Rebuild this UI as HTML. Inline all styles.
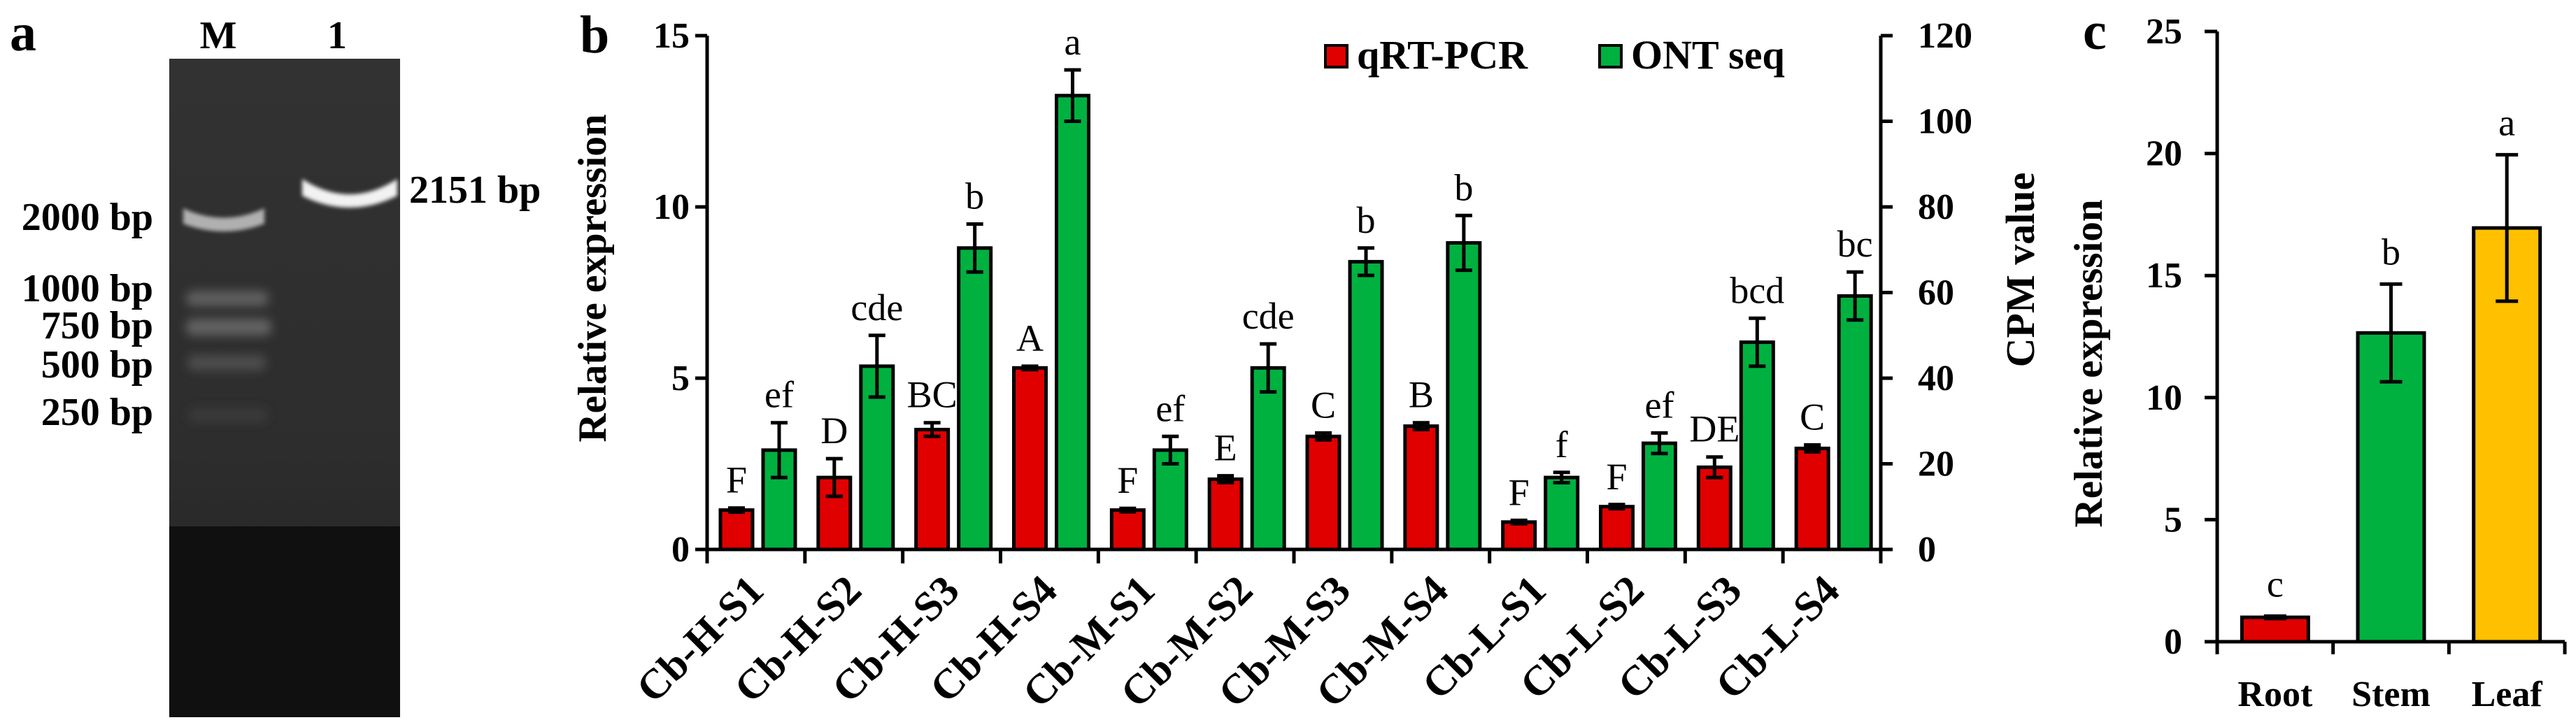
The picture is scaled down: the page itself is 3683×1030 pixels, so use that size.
<!DOCTYPE html>
<html><head><meta charset="utf-8"><style>
html,body{margin:0;padding:0;background:#fff;}
svg{display:block;font-family:"Liberation Serif",serif;}
</style></head><body>
<svg id="fig" width="3683" height="1030" viewBox="0 0 3683 1030" xmlns="http://www.w3.org/2000/svg">
<defs>
  <filter id="blur" x="-20%" y="-80%" width="140%" height="260%"><feGaussianBlur stdDeviation="7"/></filter>
  <filter id="blur2" x="-20%" y="-50%" width="140%" height="200%"><feGaussianBlur stdDeviation="3"/></filter>
  <linearGradient id="gelg" x1="0" y1="0" x2="0" y2="1">
    <stop offset="0" stop-color="#323232"/><stop offset="0.6" stop-color="#2d2d2d"/><stop offset="1" stop-color="#202020"/>
  </linearGradient>
</defs>

<g>
  <text x="14" y="72" font-size="76" font-weight="bold">a</text>
  <rect x="242" y="84" width="330" height="942" fill="url(#gelg)"/>
  <rect x="242" y="753" width="330" height="273" fill="#101010"/>
  <g>
    <path d="M262,298 Q320,325 378,298 L378,320 Q320,342 262,320 Z" fill="#b0b0b0" filter="url(#blur2)"/>
    <rect x="266" y="416" width="118" height="22" rx="10" fill="#5e5e5e" filter="url(#blur)"/>
    <rect x="266" y="456" width="122" height="24" rx="10" fill="#626262" filter="url(#blur)"/>
    <rect x="268" y="508" width="112" height="22" rx="10" fill="#4e4e4e" filter="url(#blur)"/>
    <rect x="270" y="584" width="112" height="20" rx="9" fill="#3a3a3a" filter="url(#blur)"/>
  </g>
  <path d="M432,256 Q500,300 568,256 L568,280 Q500,314 432,280 Z" fill="#f2f2f2" filter="url(#blur2)"/>
  <g font-size="56" font-weight="bold">
    <text x="312" y="69" text-anchor="middle">M</text>
    <text x="482" y="69" text-anchor="middle">1</text>
    <text x="219" y="329" text-anchor="end">2000 bp</text>
    <text x="219" y="431" text-anchor="end">1000 bp</text>
    <text x="219" y="484" text-anchor="end">750 bp</text>
    <text x="219" y="540" text-anchor="end">500 bp</text>
    <text x="219" y="608" text-anchor="end">250 bp</text>
    <text x="585" y="290">2151 bp</text>
  </g>
</g>

<g id="panelB"></g>
<g id="panelC"></g>
</svg>

<script>
const bCategories = ["Cb-H-S1","Cb-H-S2","Cb-H-S3","Cb-H-S4","Cb-M-S1","Cb-M-S2","Cb-M-S3","Cb-M-S4","Cb-L-S1","Cb-L-S2","Cb-L-S3","Cb-L-S4"];
const qpcrValues = [1.15,2.1,3.5,5.3,1.15,2.05,3.3,3.6,0.8,1.25,2.4,2.95];
const qpcrErrors = [0.06,0.55,0.2,0.05,0.05,0.1,0.1,0.1,0.05,0.06,0.3,0.1];
const qpcrLetters = ["F","D","BC","A","F","E","C","B","F","F","DE","C"];
const ontCPM = [23.2,42.8,70.4,106,23.2,42.4,67.2,71.6,16.8,24.8,48.4,59.2];
const ontErrors = [6.4,7.2,5.6,6.0,3.2,5.6,3.2,6.4,1.2,2.4,5.6,5.6];
const ontLetters = ["ef","cde","b","a","ef","cde","b","b","f","ef","bcd","bc"];
const bLeftTicks = [0,5,10,15];
const bRightTicks = [0,20,40,60,80,100,120];

const cCategories = ["Root","Stem","Leaf"];
const cValues = [1.0,12.65,16.95];
const cErrors = [0.05,2.0,3.0];
const cLetters = ["c","b","a"];
const cColors = ["#e00000","#00b140","#ffc000"];
const cTicks = [0,5,10,15,20,25];

const NS = "http://www.w3.org/2000/svg";
function mk(parent, tag, attrs, text){
  const e = document.createElementNS(NS, tag);
  for (const k in attrs) e.setAttribute(k, attrs[k]);
  if (text !== undefined) e.textContent = text;
  parent.appendChild(e);
  return e;
}

(function(){
  const g = document.getElementById("panelB");
  const x0 = 1011, x1 = 2689, y0 = 786, yTop = 51;
  const yL = v => y0 - (v/15)*(y0-yTop);
  const yR = v => y0 - (v/120)*(y0-yTop);
  const step = (x1-x0)/bCategories.length;
  const bw = 46;

  let t = mk(g,"text",{x:829,y:75,"font-size":76,"font-weight":"bold"},"b");
  
  

  bCategories.forEach((c,i)=>{
    const cx = x0 + step*i;
    const rx = cx + 19, ry = yL(qpcrValues[i]);
    let r = mk(g,"rect",{x:rx,y:ry,width:bw,height:y0-ry,fill:"#e00000",stroke:"#000","stroke-width":5});
    
    
    const rmx = rx + bw/2;
    const rt = yL(qpcrValues[i]+qpcrErrors[i]), rb = yL(qpcrValues[i]-qpcrErrors[i]);
    let e = mk(g,"path",{d:`M${rmx},${rt}V${rb}M${rmx-12},${rt}H${rmx+12}M${rmx-12},${rb}H${rmx+12}`,stroke:"#000","stroke-width":5,fill:"none"});
    
    
    let l = mk(g,"text",{x:rmx,y:rt-22,"font-size":54,"text-anchor":"middle"},qpcrLetters[i]);
    
    
    const gx = cx + 80, gy = yR(ontCPM[i]);
    let gr = mk(g,"rect",{x:gx,y:gy,width:bw,height:y0-gy,fill:"#00b140",stroke:"#000","stroke-width":5});
    
    
    const gmx = gx + bw/2;
    const gt = yR(ontCPM[i]+ontErrors[i]), gb = yR(ontCPM[i]-ontErrors[i]);
    let ge = mk(g,"path",{d:`M${gmx},${gt}V${gb}M${gmx-12},${gt}H${gmx+12}M${gmx-12},${gb}H${gmx+12}`,stroke:"#000","stroke-width":5,fill:"none"});
    
    
    let gl = mk(g,"text",{x:gmx,y:gt-22,"font-size":54,"text-anchor":"middle"},ontLetters[i]);
    
    
    const lx = cx + step/2 + 14;
    let cl = mk(g,"text",{x:lx,y:848,"font-size":60,"font-weight":"bold","text-anchor":"end",transform:`rotate(-45 ${lx} 848)`},c);
    
    
  });
  for (let i=0;i<=bCategories.length;i++){
    const tx = x0 + step*i;
    let tk = mk(g,"line",{x1:tx,y1:y0,x2:tx,y2:806,stroke:"#000","stroke-width":5});
    
    
  }
  let ax = mk(g,"path",{d:`M${x0},${yTop}V${y0}H${x1}V${yTop}`,stroke:"#000","stroke-width":5,fill:"none"});
  
  
  bLeftTicks.forEach(v=>{
    let tk = mk(g,"line",{x1:994,y1:yL(v),x2:x0,y2:yL(v),stroke:"#000","stroke-width":5});
    
    
    let tl = mk(g,"text",{x:986,y:yL(v)+17,"font-size":52,"font-weight":"bold","text-anchor":"end"},String(v));
    
    
  });
  bRightTicks.forEach(v=>{
    let tk = mk(g,"line",{x1:x1,y1:yR(v),x2:x1+17,y2:yR(v),stroke:"#000","stroke-width":5});
    
    
    let tl = mk(g,"text",{x:2742,y:yR(v)+17,"font-size":52,"font-weight":"bold"},String(v));
    
    
  });
  let yt = mk(g,"text",{x:866,y:398,"font-size":57,"font-weight":"bold","text-anchor":"middle",transform:"rotate(-90 866 398)"},"Relative expression");
  
  
  let rt2 = mk(g,"text",{x:2908,y:386,"font-size":58,"font-weight":"bold","text-anchor":"middle",transform:"rotate(-90 2908 386)"},"CPM value");
  
  
  let lr = mk(g,"rect",{x:1895,y:65,width:31,height:31,fill:"#e00000",stroke:"#000","stroke-width":4});
  
  
  let lt = mk(g,"text",{x:1940,y:98,"font-size":58,"font-weight":"bold"},"qRT-PCR");
  
  
  let lg = mk(g,"rect",{x:2287,y:65,width:31,height:31,fill:"#00b140",stroke:"#000","stroke-width":4});
  
  
  let lgt = mk(g,"text",{x:2332,y:98,"font-size":58,"font-weight":"bold"},"ONT seq");
  
  
})();

(function(){
  const g = document.getElementById("panelC");
  const x0 = 3170, x1 = 3667, y0 = 918, yTop = 45;
  const y = v => y0 - (v/25)*(y0-yTop);
  const step = (x1-x0)/cCategories.length;
  const bw = 95;
  let t = mk(g,"text",{x:2978,y:70,"font-size":76,"font-weight":"bold"},"c");
  
  
  cCategories.forEach((c,i)=>{
    const cx = x0 + step*i + step/2;
    const by = y(cValues[i]);
    let r = mk(g,"rect",{x:cx-bw/2,y:by,width:bw,height:y0-by,fill:cColors[i],stroke:"#000","stroke-width":5});
    
    
    const et = y(cValues[i]+cErrors[i]), eb = y(cValues[i]-cErrors[i]);
    let e = mk(g,"path",{d:`M${cx},${et}V${eb}M${cx-16},${et}H${cx+16}M${cx-16},${eb}H${cx+16}`,stroke:"#000","stroke-width":5,fill:"none"});
    
    
    let l = mk(g,"text",{x:cx,y:et-28,"font-size":54,"text-anchor":"middle"},cLetters[i]);
    
    
    let cl = mk(g,"text",{x:cx,y:1010,"font-size":52,"font-weight":"bold","text-anchor":"middle"},c);
    
    
  });
  for (let i=0;i<=cCategories.length;i++){
    const tx = x0 + step*i;
    let tk = mk(g,"line",{x1:tx,y1:y0,x2:tx,y2:936,stroke:"#000","stroke-width":5});
    
    
  }
  let ax = mk(g,"path",{d:`M${x0},${yTop}V${y0}H${x1}`,stroke:"#000","stroke-width":5,fill:"none"});
  
  
  cTicks.forEach(v=>{
    let tk = mk(g,"line",{x1:3152,y1:y(v),x2:x0,y2:y(v),stroke:"#000","stroke-width":5});
    
    
    let tl = mk(g,"text",{x:3120,y:y(v)+17,"font-size":52,"font-weight":"bold","text-anchor":"end"},String(v));
    
    
  });
  let yt = mk(g,"text",{x:3005,y:520,"font-size":57,"font-weight":"bold","text-anchor":"middle",transform:"rotate(-90 3005 520)"},"Relative expression");
  
  
})();
</script>
</body></html>
